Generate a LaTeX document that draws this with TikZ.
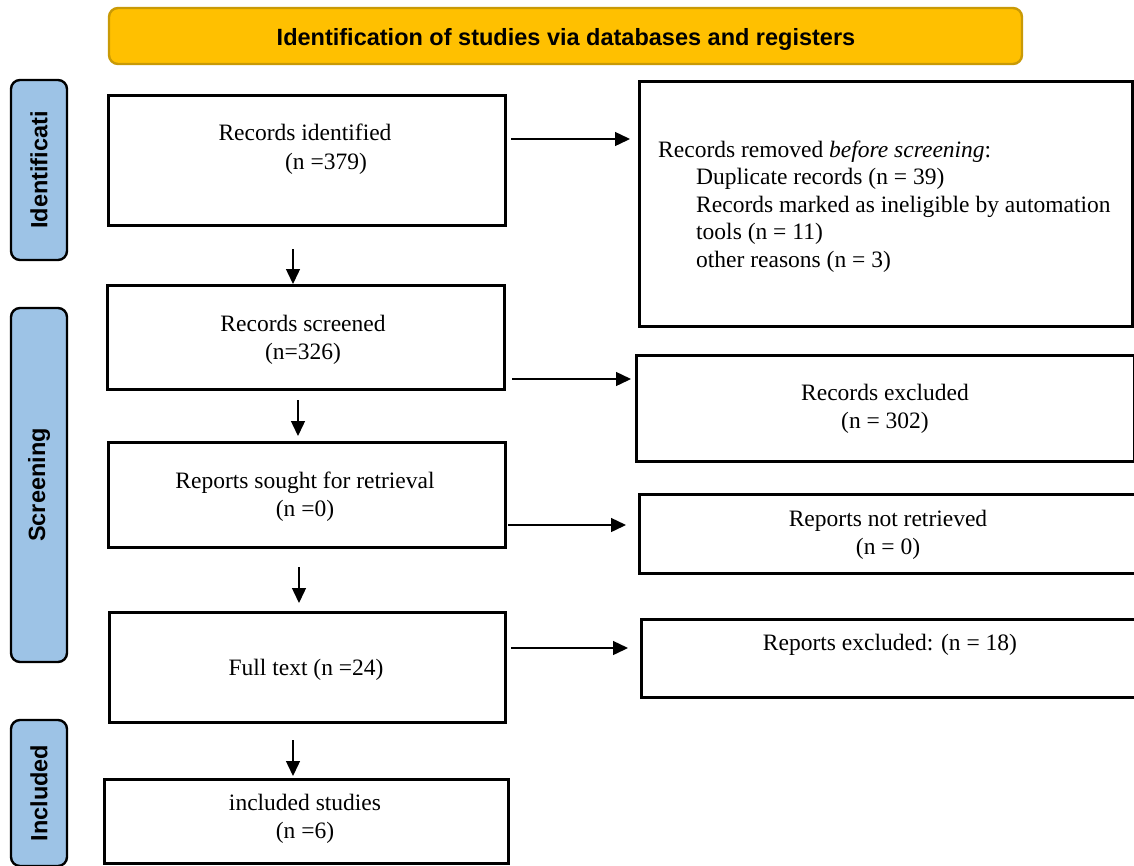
\documentclass[tikz,border=0pt]{standalone}
\usepackage{fontspec}
\setmainfont{Liberation Serif}
\newfontfamily\hdfont{Liberation Sans}
\usetikzlibrary{arrows.meta}
\definecolor{hdfill}{HTML}{FFC000}
\definecolor{hdline}{HTML}{C99A06}
\definecolor{sidefill}{HTML}{9DC3E6}
\begin{document}
\begin{tikzpicture}[x=1pt,y=-1pt,
  box/.style={draw=black,line width=2.6pt,fill=white,anchor=north west,inner sep=0pt},
  hdr/.style={draw=hdline,line width=2.4pt,fill=hdfill,rounded corners=9pt,inner sep=0pt},
  hdtxt/.style={inner sep=0pt,font=\hdfont\bfseries\fontsize{23.5}{27}\selectfont},
  side/.style={draw=black,line width=2.4pt,fill=sidefill,rounded corners=9pt,inner sep=0pt,rotate=90,
    font=\hdfont\bfseries\fontsize{23.5}{27}\selectfont},
  txt/.style={inner sep=0pt,font=\fontsize{23.5}{27.5}\selectfont},
  arr/.style={line width=1.4pt,-{Triangle[length=15pt,width=14pt]}}]
\useasboundingbox (0,0) rectangle (1134,865);
% header
\node[hdr,minimum width=913pt,minimum height=56pt] (hd) at (565.5,36) {};
\node[hdtxt,anchor=base] (hdt) at (566,45) {Identification of studies via databases and registers};
% side labels
\node[side,minimum width=180pt,minimum height=56pt] (s1) at (39,170) {Identificati};
\node[side,minimum width=354pt,minimum height=56pt] (s2) at (39,485) {Screening};
\node[side,minimum width=146pt,minimum height=56pt] (s3) at (39,793) {Included};
% boxes
\node[box,minimum width=397pt,minimum height=130pt] (rid) at (107,94) {};
\node[box,minimum width=493pt,minimum height=245pt] (rrm) at (638,80) {};
\node[box,minimum width=397pt,minimum height=104pt] (rsc) at (106,284) {};
\node[box,minimum width=498pt,minimum height=106pt] (rex) at (635,354) {};
\node[box,minimum width=397pt,minimum height=105pt] (rso) at (107,441) {};
\node[box,minimum width=510pt,minimum height=79pt] (rnr) at (638,493) {};
\node[box,minimum width=396pt,minimum height=110pt] (ftx) at (108,611) {};
\node[box,minimum width=510pt,minimum height=78pt] (repx) at (640,618) {};
\node[box,minimum width=404pt,minimum height=84pt] (inc) at (103,778) {};
% texts (base anchor = baseline of the last line)
\node[txt,anchor=base] (t1a) at (305,140) {Records identified};
\node[txt,anchor=base] (t1b) at (326,169) {(n =379)};
\node[txt,anchor=base west,align=left] (t2) at (658,267) {Records removed \textit{before screening}:\\
\hspace*{38pt}Duplicate records (n = 39)\\
\hspace*{38pt}Records marked as ineligible by automation\\
\hspace*{38pt}tools (n = 11)\\
\hspace*{38pt}other reasons (n = 3)};
\node[txt,anchor=base,align=center] (t3) at (303,359) {Records screened\\(n=326)};
\node[txt,anchor=base,align=center] (t4) at (885,428) {Records excluded\\(n = 302)};
\node[txt,anchor=base,align=center] (t5) at (305,516) {Reports sought for retrieval\\(n =0)};
\node[txt,anchor=base,align=center] (t6) at (888,554) {Reports not retrieved\\(n = 0)};
\node[txt,anchor=base] (t7) at (306,675) {Full text (n =24)};
\node[txt,anchor=base] (t8) at (890,650) {Reports excluded: (n = 18)};
\node[txt,anchor=base,align=center] (t9) at (305,838) {included studies\\(n =6)};
% arrow ends
\coordinate (h1s) at (511,139); \coordinate (h1e) at (630,139);
\coordinate (h2s) at (512,379); \coordinate (h2e) at (631,379);
\coordinate (h3s) at (508,525); \coordinate (h3e) at (626,525);
\coordinate (h4s) at (511,648); \coordinate (h4e) at (628,648);
\coordinate (v1s) at (293,249); \coordinate (v1e) at (293,284);
\coordinate (v2s) at (298,400); \coordinate (v2e) at (298,436);
\coordinate (v3s) at (299,567); \coordinate (v3e) at (299,603);
\coordinate (v4s) at (293,740); \coordinate (v4e) at (293,776);
\draw[arr] (h1s) -- (h1e);
\draw[arr] (h2s) -- (h2e);
\draw[arr] (h3s) -- (h3e);
\draw[arr] (h4s) -- (h4e);
\draw[arr] (v1s) -- (v1e);
\draw[arr] (v2s) -- (v2e);
\draw[arr] (v3s) -- (v3e);
\draw[arr] (v4s) -- (v4e);
\end{tikzpicture}
\end{document}
